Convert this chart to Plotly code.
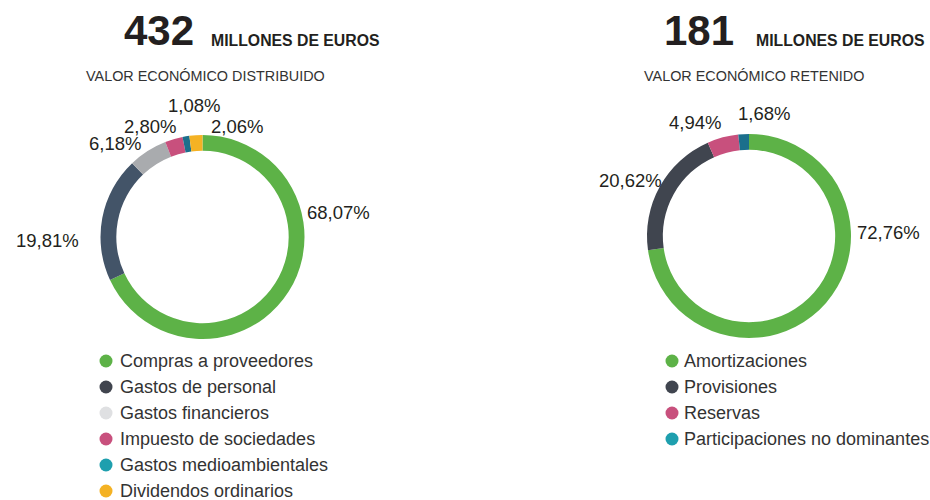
import plotly.graph_objects as go

# ---------------- data ----------------
dist_labels = ["Compras a proveedores", "Gastos de personal", "Gastos financieros",
               "Impuesto de sociedades", "Gastos medioambientales", "Dividendos ordinarios"]
dist_values = [68.07, 19.81, 6.18, 2.80, 1.08, 2.06]
dist_total = "432"
dist_title = "VALOR ECONÓMICO DISTRIBUIDO"

ret_labels = ["Amortizaciones", "Provisiones", "Reservas", "Participaciones no dominantes"]
ret_values = [72.76, 20.62, 4.94, 1.68]
ret_total = "181"
ret_title = "VALOR ECONÓMICO RETENIDO"

unit = "MILLONES DE EUROS"

# ---------------- styles ----------------
W, H = 930, 500
FONT = "Liberation Sans, Arial, sans-serif"
TXT = "#231f20"
dist_slice_colors = ["#5db247", "#435468", "#a9abae", "#c8507d", "#1b6f8c", "#f4b224"]
dist_legend_colors = ["#5db247", "#40444e", "#dfe0e2", "#c8507d", "#1e9fae", "#f4b224"]
ret_slice_colors = ["#5db247", "#40454f", "#c8507d", "#1b6f8c"]
ret_legend_colors = ["#5db247", "#40454f", "#c8507d", "#1e9fae"]

# pixel geometry of the donuts: (cx, cy, r)
left_geo = (202.5, 237, 102)
right_geo = (749, 236, 102)
# pixel anchor of each percent label
dist_label_pos = [(338, 212), (47, 240), (115, 143), (150, 126), (194, 105), (237, 126)]
ret_label_pos = [(888, 232), (630, 180), (695, 122), (764, 113)]


def fmt(v):
    return f"{v:.2f}".replace(".", ",") + "%"


def domain(geo):
    cx, cy, r = geo
    return dict(x=[(cx - r) / W, (cx + r) / W], y=[(H - cy - r) / H, (H - cy + r) / H])


fig = go.Figure()

for labels, values, colors, geo in [
    (dist_labels, dist_values, dist_slice_colors, left_geo),
    (ret_labels, ret_values, ret_slice_colors, right_geo),
]:
    fig.add_trace(go.Pie(
        labels=labels, values=values, sort=False, direction="clockwise", rotation=0,
        hole=0.845, textinfo="none", hoverinfo="label+percent",
        marker=dict(colors=colors, line=dict(width=0)),
        domain=domain(geo), showlegend=False,
    ))

annotations = []

# percent labels
for values, positions in [(dist_values, dist_label_pos), (ret_values, ret_label_pos)]:
    for v, (px, py) in zip(values, positions):
        annotations.append(dict(x=px, y=py, xref="x", yref="y", text=fmt(v), showarrow=False,
                                xanchor="center", yanchor="middle",
                                font=dict(family=FONT, size=18.5, color=TXT)))

# headers
for total, title, num_right, unit_left, title_cx in [
    (dist_total, dist_title, 196, 209, 205),
    (ret_total, ret_title, 736, 754, 754),
]:
    annotations.append(dict(x=num_right, y=30, xref="x", yref="y", text=f"<b>{total}</b>",
                            showarrow=False, xanchor="right", yanchor="middle",
                            font=dict(family=FONT, size=42, color=TXT)))
    annotations.append(dict(x=unit_left, y=40, xref="x", yref="y", text=f"<b>{unit}</b>",
                            showarrow=False, xanchor="left", yanchor="middle",
                            font=dict(family=FONT, size=15.8, color=TXT)))
    annotations.append(dict(x=title_cx, y=76, xref="x", yref="y", text=title,
                            showarrow=False, xanchor="center", yanchor="middle",
                            font=dict(family=FONT, size=14.4, color="#333333")))

# legends (scatter markers on hidden pixel axes)
LEG_Y0, LEG_STEP = 361, 26
for labels, colors, mx, tx in [
    (dist_labels, dist_legend_colors, 106, 118),
    (ret_labels, ret_legend_colors, 672, 682),
]:
    ys = [LEG_Y0 + i * LEG_STEP for i in range(len(labels))]
    fig.add_trace(go.Scatter(
        x=[mx] * len(labels), y=ys, mode="markers",
        marker=dict(size=13, color=colors, line=dict(width=0)),
        hoverinfo="text", text=labels, showlegend=False,
    ))
    for lab, y in zip(labels, ys):
        annotations.append(dict(x=tx, y=y, xref="x", yref="y", text=lab, showarrow=False,
                                xanchor="left", yanchor="middle",
                                font=dict(family=FONT, size=18, color="#333333")))

fig.update_layout(
    width=W, height=H, margin=dict(l=0, r=0, t=0, b=0),
    paper_bgcolor="white", plot_bgcolor="rgba(0,0,0,0)",
    xaxis=dict(range=[0, W], visible=False, fixedrange=True, domain=[0, 1]),
    yaxis=dict(range=[H, 0], visible=False, fixedrange=True, domain=[0, 1]),
    annotations=annotations,
)

fig.write_html("out.html", config={"displayModeBar": False},
               post_script="document.body.style.margin='0';")
